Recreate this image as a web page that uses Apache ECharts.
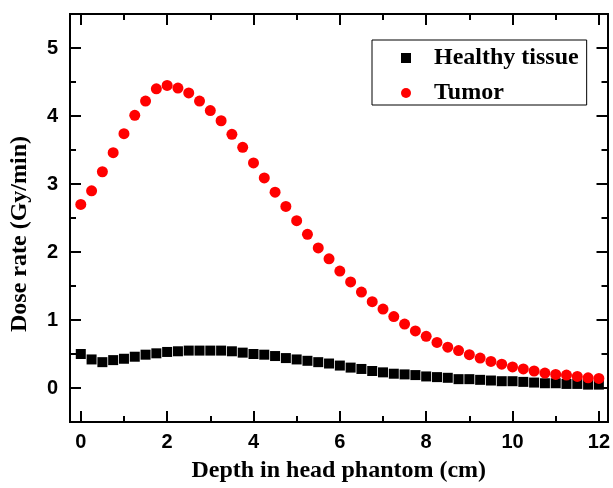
<!DOCTYPE html>
<html>
<head>
<meta charset="utf-8">
<script src="https://cdn.jsdelivr.net/npm/echarts@6/dist/echarts.min.js"></script>
<style>
  html, body { margin: 0; padding: 0; background: #fff; }
  #chart { width: 613px; height: 488px; }
</style>
</head>
<body>
<div id="chart"></div>
<script>
// Depth in head phantom (cm)
const depth = [0, 0.25, 0.5, 0.75, 1, 1.25, 1.5, 1.75, 2, 2.25, 2.5, 2.75, 3, 3.25, 3.5, 3.75,
  4, 4.25, 4.5, 4.75, 5, 5.25, 5.5, 5.75, 6, 6.25, 6.5, 6.75, 7, 7.25, 7.5, 7.75,
  8, 8.25, 8.5, 8.75, 9, 9.25, 9.5, 9.75, 10, 10.25, 10.5, 10.75, 11, 11.25, 11.5, 11.75, 12];

// Dose rate (Gy/min)
const healthy = [0.50, 0.42, 0.38, 0.41, 0.43, 0.46, 0.49, 0.51, 0.53, 0.54,
  0.55, 0.55, 0.55, 0.55, 0.54, 0.52, 0.50, 0.49, 0.47, 0.44,
  0.42, 0.40, 0.38, 0.36, 0.33, 0.30, 0.28, 0.25, 0.23, 0.21,
  0.20, 0.19, 0.17, 0.16, 0.15, 0.13, 0.13, 0.12, 0.11, 0.10,
  0.10, 0.09, 0.08, 0.07, 0.07, 0.06, 0.06, 0.05, 0.05];

const tumor = [2.70, 2.90, 3.18, 3.46, 3.74, 4.01, 4.22, 4.40, 4.45, 4.41,
  4.34, 4.22, 4.08, 3.93, 3.73, 3.54, 3.31, 3.09, 2.88, 2.67,
  2.46, 2.26, 2.06, 1.90, 1.72, 1.56, 1.41, 1.27, 1.16, 1.05,
  0.94, 0.84, 0.76, 0.67, 0.60, 0.55, 0.49, 0.44, 0.39, 0.35,
  0.31, 0.28, 0.25, 0.22, 0.20, 0.19, 0.17, 0.15, 0.14];

// Tick positions
const xMajor = [0, 2, 4, 6, 8, 10, 12];
const xMinor = [1, 3, 5, 7, 9, 11];
const yMajor = [0, 1, 2, 3, 4, 5];
const yMinor = [-0.5, 0.5, 1.5, 2.5, 3.5, 4.5];

const X_MIN = -0.25, X_MAX = 12.2;
const Y_MIN = -0.5, Y_MAX = 5.5;

const serif = 'Liberation Serif';
const sans = 'Liberation Sans';

function axis(kind, position, ticks, tickLen, withLabels, extra) {
  const isX = kind === 'x';
  const a = {
    type: 'value',
    position: position,
    min: isX ? X_MIN : Y_MIN,
    max: isX ? X_MAX : Y_MAX,
    splitLine: { show: false },
    axisLine: { show: true, onZero: false, lineStyle: { color: '#000', width: 2 } },
    axisTick: {
      show: true, inside: true, length: tickLen, customValues: ticks,
      lineStyle: { color: '#000', width: 2 }
    },
    axisLabel: withLabels ? {
      show: true, customValues: ticks,
      fontFamily: sans, fontWeight: 'bold', fontSize: 20, color: '#000',
      margin: isX ? 10 : 12
    } : { show: false }
  };
  return Object.assign(a, extra || {});
}

const chart = echarts.init(document.getElementById('chart'), null, { renderer: 'canvas' });

chart.setOption({
  animation: false,
  backgroundColor: '#fff',
  grid: { left: 70, right: 5, top: 14, bottom: 64, containLabel: false },
  legend: {
    data: ['Healthy tissue', 'Tumor'],
    orient: 'vertical',
    left: 372,
    top: 40,
    padding: [6, 8, 0, 29],
    itemGap: 11,
    itemWidth: 10,
    itemHeight: 10,
    borderColor: '#000',
    borderWidth: 1,
    borderRadius: 0,
    textStyle: {
      fontFamily: serif, fontWeight: 'bold', fontSize: 24, color: '#000',
      lineHeight: 22, padding: [0, 0, 0, 18]
    }
  },
  xAxis: [
    axis('x', 'bottom', xMajor, 11, true, {
      name: 'Depth in head phantom (cm)',
      nameLocation: 'middle',
      nameGap: 37,
      nameTextStyle: { fontFamily: serif, fontWeight: 'bold', fontSize: 24, color: '#000' }
    }),
    axis('x', 'bottom', xMinor, 6, false),
    axis('x', 'top', xMajor, 11, false),
    axis('x', 'top', xMinor, 6, false)
  ],
  yAxis: [
    axis('y', 'left', yMajor, 11, true, {
      name: 'Dose rate (Gy/min)',
      nameLocation: 'middle',
      nameGap: 38,
      nameTextStyle: {
        fontFamily: serif, fontWeight: 'bold', fontSize: 24, color: '#000',
        padding: [0, 32, 0, 0]
      }
    }),
    axis('y', 'left', yMinor, 6, false),
    axis('y', 'right', yMajor, 11, false),
    axis('y', 'right', yMinor, 6, false)
  ],
  series: [
    {
      name: 'Healthy tissue',
      type: 'scatter',
      xAxisIndex: 0, yAxisIndex: 0,
      symbol: 'rect',
      symbolSize: 10,
      itemStyle: { color: '#000', opacity: 1 },
      data: depth.map((d, i) => [d, healthy[i]])
    },
    {
      name: 'Tumor',
      type: 'scatter',
      xAxisIndex: 0, yAxisIndex: 0,
      symbol: 'circle',
      symbolSize: 11,
      itemStyle: { color: '#ff0000', opacity: 1 },
      data: depth.map((d, i) => [d, tumor[i]])
    }
  ]
});
</script>
</body>
</html>
